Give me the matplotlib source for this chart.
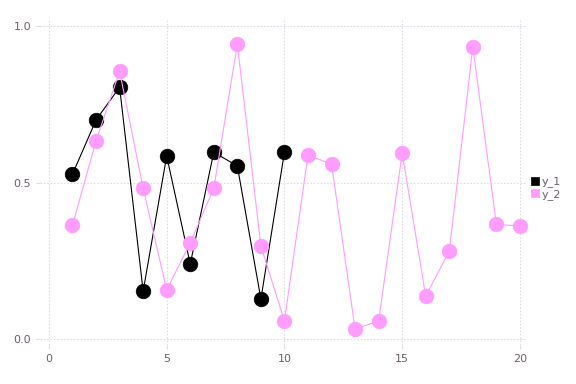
import matplotlib
matplotlib.use("Agg")
import matplotlib.pyplot as plt

x1 = [1, 2, 3, 4, 5, 6, 7, 8, 9, 10]
y_1 = [0.527, 0.700, 0.805, 0.153, 0.585, 0.240, 0.597, 0.553, 0.128, 0.597]
x2 = list(range(1, 21))
y_2 = [0.364, 0.633, 0.856, 0.482, 0.157, 0.307, 0.482, 0.942, 0.297, 0.058,
       0.588, 0.559, 0.032, 0.058, 0.594, 0.137, 0.281, 0.933, 0.367, 0.361]
xticks = [0, 5, 10, 15, 20]
yticks = [0.0, 0.5, 1.0]
ytick_labels = ["0.0", "0.5", "1.0"]

pink = "#ff9cff"
text_col = "#6b5f6b"
grid_col = "#dcdce6"

fig = plt.figure(figsize=(5.76, 3.84), dpi=100)
ax = fig.add_axes([40 / 576, 39 / 384, 487 / 576, 327 / 384])

ax.plot(x1, y_1, color="black", lw=0.8, marker="o", ms=10.5,
        mfc="black", mec="black", mew=0.5, label="y_1", zorder=3)
ax.plot(x2, y_2, color=pink, lw=0.8, marker="o", ms=10.5,
        mfc=pink, mec=pink, mew=0.5, label="y_2", zorder=3)

ax.set_xlim(-0.38, 20.3)
ax.set_ylim(-0.019, 1.026)
ax.set_xticks(xticks)
ax.set_yticks(yticks)
ax.set_yticklabels(ytick_labels)
ax.grid(True, color=grid_col, ls=(0, (1.5, 1.5)), lw=0.8)
ax.set_axisbelow(True)
for s in ax.spines.values():
    s.set_visible(False)
ax.tick_params(colors=grid_col, labelcolor=text_col, labelsize=8, length=3, width=0.8)

leg = ax.legend(loc="center left", bbox_to_anchor=(0.995, 0.48), frameon=False,
                fontsize=8, handlelength=0.6, handletextpad=0.3, labelspacing=0.1,
                borderaxespad=0.2, markerscale=0.5)
for h in leg.legend_handles:
    h.set_linestyle("none")
    h.set_marker("s")
for t in leg.get_texts():
    t.set_color(text_col)

fig.savefig("out.png", dpi=100)
